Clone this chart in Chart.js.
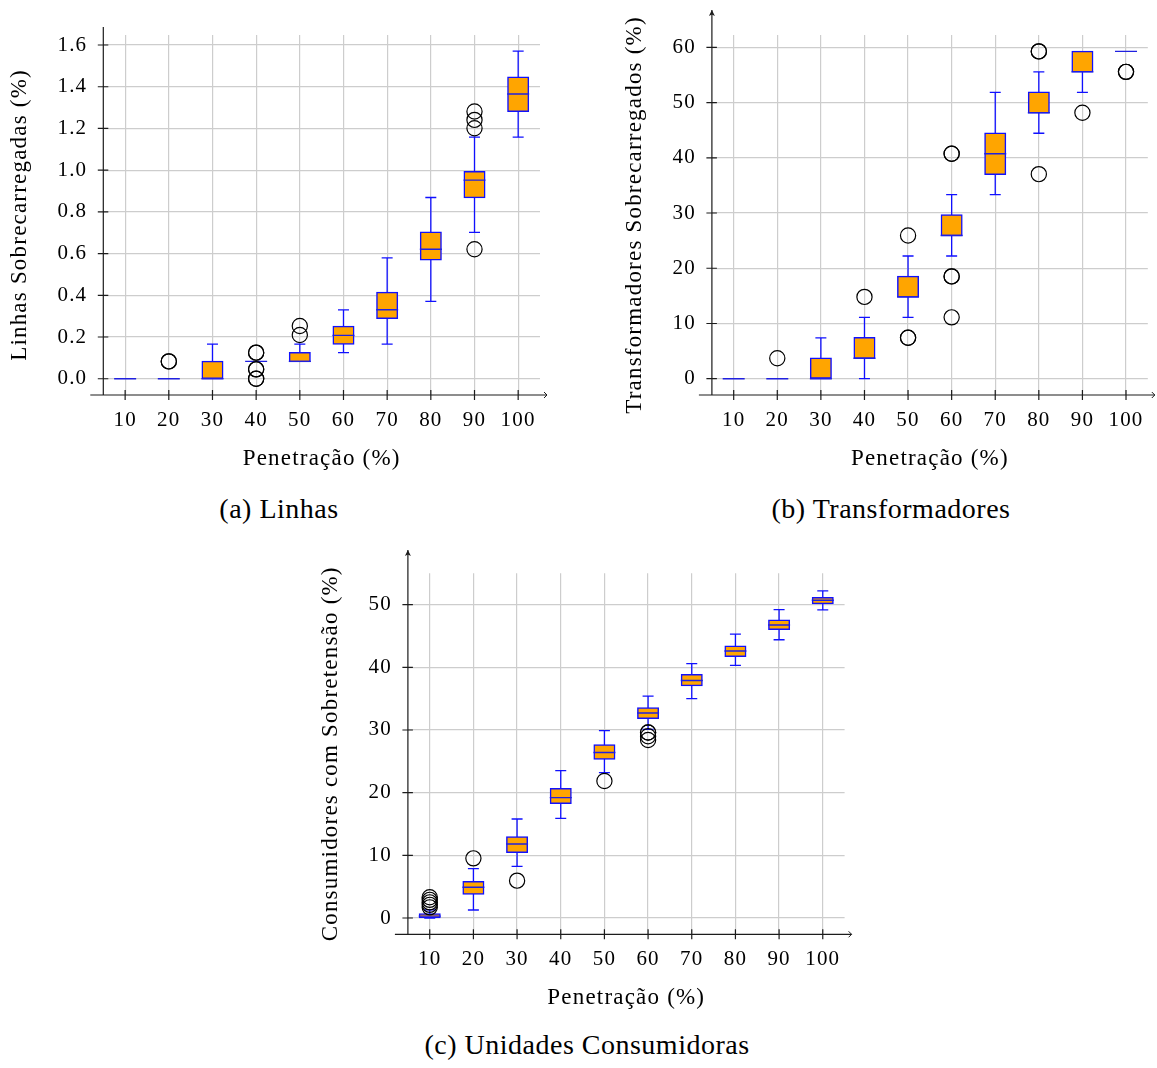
<!DOCTYPE html>
<html lang="pt">
<head>
<meta charset="utf-8">
<title>Sobrecargas por penetração</title>
<script src="https://cdn.jsdelivr.net/npm/chart.js@4.4.1/dist/chart.umd.min.js"></script>
<style>
  html, body { margin: 0; padding: 0; background: #fff; width: 1157px; height: 1068px; overflow: hidden; }
  canvas { position: absolute; }
  .cap {
    position: absolute; font-family: 'Liberation Serif', serif; font-size: 28px; line-height: 28px;
    letter-spacing: 0.5px; color: #000; white-space: nowrap; transform: translateX(-50%);
  }
</style>
</head>
<body>
<canvas id="cLinhas" width="580" height="480" style="left:0px;top:0px"></canvas>
<canvas id="cTransf" width="557" height="480" style="left:600px;top:0px"></canvas>
<canvas id="cCons" width="575" height="480" style="left:300px;top:540px"></canvas>
<div class="cap" style="left:279px;top:495px">(a) Linhas</div>
<div class="cap" style="left:891px;top:495px">(b) Transformadores</div>
<div class="cap" style="left:587px;top:1031px">(c) Unidades Consumidoras</div>

<script>
// Penetração (%) — categorias comuns aos três gráficos
const penetracao = [10, 20, 30, 40, 50, 60, 70, 80, 90, 100];

// (a) Linhas sobrecarregadas (%)
const linhasMin = [0, 0, 0, 0.083, 0.083, 0.125, 0.166, 0.371, 0.702, 1.158];
const linhasQ1  = [0, 0, 0, 0.083, 0.083, 0.166, 0.290, 0.570, 0.869, 1.283];
const linhasMed = [0, 0, 0, 0.083, 0.083, 0.208, 0.331, 0.621, 0.952, 1.365];
const linhasQ3  = [0, 0, 0.083, 0.083, 0.125, 0.250, 0.413, 0.702, 0.992, 1.446];
const linhasMax = [0, 0, 0.166, 0.083, 0.166, 0.330, 0.579, 0.869, 1.158, 1.571];
const linhasOut = [[20, 0.083], [20, 0.083], [40, 0.125], [40, 0.125], [40, 0.045], [40, 0.045], [40, 0], [40, 0],
                   [50, 0.210], [50, 0.253], [90, 0.621], [90, 1.201], [90, 1.241], [90, 1.281]];
const linhasTicks = [0, 0.2, 0.4, 0.6, 0.8, 1.0, 1.2, 1.4, 1.6];

// (b) Transformadores sobrecarregados (%)
const transfMin = [0, 0, 0, 0, 11.11, 22.22, 33.33, 44.44, 51.85, 59.26];
const transfQ1  = [0, 0, 0, 3.70, 14.81, 25.93, 37.04, 48.15, 55.56, 59.26];
const transfMed = [0, 0, 0, 3.70, 14.81, 25.93, 40.74, 48.15, 55.56, 59.26];
const transfQ3  = [0, 0, 3.70, 7.41, 18.52, 29.63, 44.44, 51.85, 59.26, 59.26];
const transfMax = [0, 0, 7.41, 11.11, 22.22, 33.33, 51.85, 55.56, 59.26, 59.26];
const transfOut = [[20, 3.70], [40, 14.81], [50, 25.93], [50, 7.41], [50, 7.41], [60, 40.74], [60, 40.74],
                   [60, 18.52], [60, 18.52], [60, 11.11], [80, 59.26], [80, 59.26], [80, 37.04], [90, 48.15],
                   [100, 55.56], [100, 55.56]];
const transfTicks = [0, 10, 20, 30, 40, 50, 60];

// (c) Consumidores com sobretensão (%)
const consMin = [0, 1.28, 8.24, 15.9, 23.2, 30.1, 35.0, 40.3, 44.4, 49.15];
const consQ1  = [0.1, 3.83, 10.48, 18.3, 25.37, 31.86, 37.1, 41.75, 46.06, 50.2];
const consMed = [0.3, 4.9, 11.8, 19.2, 26.4, 32.7, 37.9, 42.6, 46.76, 50.7];
const consQ3  = [0.64, 5.8, 12.93, 20.64, 27.6, 33.5, 38.8, 43.35, 47.5, 51.1];
const consMax = [1.3, 7.87, 15.8, 23.5, 29.9, 35.4, 40.6, 45.3, 49.2, 52.2];
const consOut = [[10, 1.7], [10, 2.1], [10, 2.5], [10, 2.9], [10, 3.3], [20, 9.52], [30, 5.96], [50, 21.86],
                 [60, 29.6], [60, 29.6], [60, 29.0], [60, 28.4]];
const consTicks = [0, 10, 20, 30, 40, 50];

Chart.defaults.font.family = "'Liberation Serif', 'Times New Roman', serif";
Chart.defaults.color = '#000';

const BOX_W = 22;
const CAP_W = 11;
const BLUE = '#1010ff';
const GRID = '#cdcdcd';
const AXIS = '#1c1c1c';

// Slightly wider letter spacing for all canvas text
const letterSpacing = {
  id: 'letterSpacing',
  beforeUpdate(chart) { chart.ctx.letterSpacing = '1.2px'; },
  beforeDraw(chart) { chart.ctx.letterSpacing = '1.2px'; }
};

// Whiskers (under the boxes) and medians (over the boxes)
const boxWhiskers = {
  id: 'boxWhiskers',
  beforeDatasetsDraw(chart, args, o) {
    const { ctx, scales: { x, y } } = chart;
    ctx.save();
    ctx.strokeStyle = BLUE;
    ctx.lineWidth = 1.3;
    ctx.beginPath();
    o.cats.forEach((c, i) => {
      const px = x.getPixelForValue(c);
      if (o.lo[i] < o.q1[i]) {
        const a = y.getPixelForValue(o.lo[i]), b = y.getPixelForValue(o.q1[i]);
        ctx.moveTo(px, a); ctx.lineTo(px, b);
        ctx.moveTo(px - CAP_W / 2, a); ctx.lineTo(px + CAP_W / 2, a);
      }
      if (o.hi[i] > o.q3[i]) {
        const a = y.getPixelForValue(o.hi[i]), b = y.getPixelForValue(o.q3[i]);
        ctx.moveTo(px, a); ctx.lineTo(px, b);
        ctx.moveTo(px - CAP_W / 2, a); ctx.lineTo(px + CAP_W / 2, a);
      }
    });
    ctx.stroke();
    ctx.restore();
  },
  afterDatasetDraw(chart, args, o) {
    if (args.index !== 1) return;
    const { ctx, scales: { x, y } } = chart;
    ctx.save();
    ctx.strokeStyle = '#2020e0';
    ctx.lineWidth = 1.4;
    ctx.beginPath();
    o.cats.forEach((c, i) => {
      const px = x.getPixelForValue(c);
      const py = y.getPixelForValue(o.med[i]);
      ctx.moveTo(px - BOX_W / 2, py); ctx.lineTo(px + BOX_W / 2, py);
    });
    ctx.stroke();
    ctx.restore();
  }
};

// Axis lines with tick marks and arrow heads
const axisLines = {
  id: 'axisLines',
  afterDraw(chart, args, o) {
    const { ctx, chartArea: { left, right, top, bottom }, scales: { x, y } } = chart;
    const yTop = top - o.yExtra;
    ctx.save();
    ctx.strokeStyle = AXIS;
    ctx.fillStyle = AXIS;
    ctx.lineWidth = 1.2;
    ctx.beginPath();
    ctx.moveTo(left - 13, bottom); ctx.lineTo(right + 7, bottom);
    ctx.moveTo(left, bottom); ctx.lineTo(left, yTop);
    y.ticks.forEach(t => {
      const py = y.getPixelForValue(t.value);
      ctx.moveTo(left - 5.5, py); ctx.lineTo(left + 5, py);
    });
    x.ticks.forEach(t => {
      const px = x.getPixelForValue(t.value);
      ctx.moveTo(px, bottom - 5); ctx.lineTo(px, bottom + 5);
    });
    ctx.stroke();
    ctx.lineWidth = 1;
    ctx.beginPath();
    ctx.moveTo(right + 4, bottom - 3); ctx.lineTo(right + 7, bottom); ctx.lineTo(right + 4, bottom + 3);
    ctx.stroke();
    if (o.yArrow) {
      ctx.beginPath();
      ctx.moveTo(left, yTop);
      ctx.lineTo(left - 3, yTop + 6);
      ctx.lineTo(left, yTop + 4.5);
      ctx.lineTo(left + 3, yTop + 6);
      ctx.closePath();
      ctx.fill();
    }
    ctx.restore();
  }
};

function boxChart(id, s) {
  const boxes = penetracao.map((c, i) => ({ x: c, y: [s.q1[i], s.q3[i]] }));
  const outliers = s.out.map(([xv, yv]) => ({ x: xv, y: yv }));
  return new Chart(document.getElementById(id), {
    type: 'bar',
    data: {
      datasets: [
        {
          type: 'scatter', data: outliers, pointStyle: 'circle', pointRadius: 7.6, pointHoverRadius: 7.6,
          pointBorderColor: '#000', pointBorderWidth: 1.2, pointBackgroundColor: 'rgba(0,0,0,0)'
        },
        {
          type: 'bar', data: boxes, backgroundColor: '#ffa500', borderColor: BLUE, borderWidth: 1.5,
          borderSkipped: false, barThickness: BOX_W - 1.5, inflateAmount: 0.75
        }
      ]
    },
    options: {
      responsive: false, animation: false, devicePixelRatio: 1, events: [],
      layout: { padding: s.pad },
      plugins: {
        legend: { display: false },
        tooltip: { enabled: false },
        boxWhiskers: { cats: penetracao, lo: s.lo, q1: s.q1, med: s.med, q3: s.q3, hi: s.hi },
        axisLines: { yExtra: s.yExtra, yArrow: s.yArrow }
      },
      scales: {
        x: {
          type: 'linear', min: 5, max: 105, offset: false,
          afterBuildTicks: sc => { sc.ticks = penetracao.map(v => ({ value: v })); },
          afterFit: sc => { sc.height = 85; },
          grid: { color: GRID, lineWidth: 1.2, drawTicks: false, offset: false },
          border: { display: false },
          ticks: { padding: 13, font: { size: 21 }, autoSkip: false, maxRotation: 0, callback: v => String(v) },
          title: { display: true, text: 'Penetração (%)', font: { size: 23 }, padding: { top: 0, bottom: 7.6 } }
        },
        y: {
          type: 'linear', min: s.yMin, max: s.yMax,
          afterBuildTicks: sc => { sc.ticks = s.ticks.map(v => ({ value: v })); },
          afterFit: sc => { sc.width = s.yW; },
          grid: { color: GRID, lineWidth: 1.2, drawTicks: false },
          border: { display: false },
          ticks: { padding: 16, font: { size: 21 }, callback: v => v.toFixed(s.dec) },
          title: { display: true, text: s.yTitle, font: { size: 23 }, padding: { top: s.yTitlePad, bottom: 0 } }
        }
      }
    },
    plugins: [letterSpacing, boxWhiskers, axisLines]
  });
}

boxChart('cLinhas', {
  lo: linhasMin, q1: linhasQ1, med: linhasMed, q3: linhasQ3, hi: linhasMax, out: linhasOut,
  ticks: linhasTicks, dec: 1, yMin: -0.078, yMax: 1.648,
  yTitle: 'Linhas Sobrecarregadas (%)', yTitlePad: 6.2,
  yW: 103.3, pad: { left: 0, top: 35, right: 40, bottom: 0 },
  yExtra: 8, yArrow: false
});

boxChart('cTransf', {
  lo: transfMin, q1: transfQ1, med: transfMed, q3: transfQ3, hi: transfMax, out: transfOut,
  ticks: transfTicks, dec: 0, yMin: -2.95, yMax: 62.23,
  yTitle: 'Transformadores Sobrecarregados (%)', yTitlePad: 21.2,
  yW: 111.9, pad: { left: 0, top: 35, right: 8.4, bottom: 0 },
  yExtra: 25, yArrow: true
});

boxChart('cCons', {
  lo: consMin, q1: consQ1, med: consMed, q3: consQ3, hi: consMax, out: consOut,
  ticks: consTicks, dec: 0, yMin: -2.6, yMax: 55.0,
  yTitle: 'Consumidores com Sobretensão (%)', yTitlePad: 17.2,
  yW: 107.9, pad: { left: 0, top: 33.3, right: 30.4, bottom: 0.7 },
  yExtra: 23.3, yArrow: true
});
</script>
</body>
</html>
